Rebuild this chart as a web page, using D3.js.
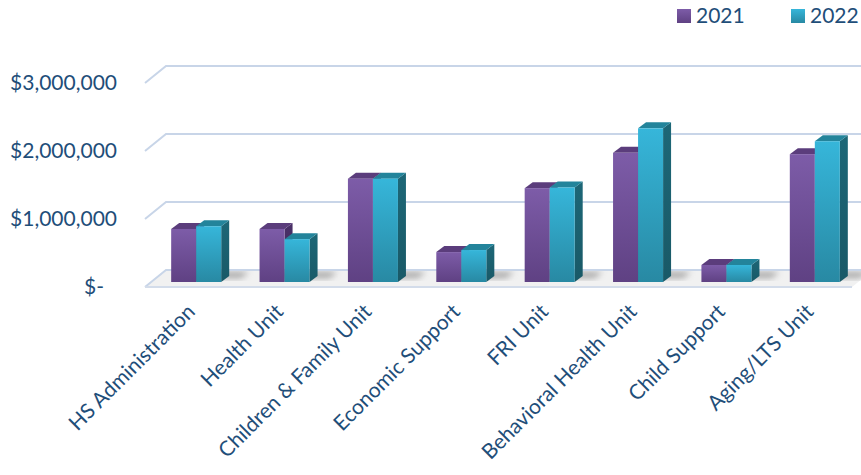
<!DOCTYPE html>
<html>
<head>
<meta charset="utf-8">
<script src="https://cdn.jsdelivr.net/npm/d3@7"></script>
<style>
  html, body { margin: 0; padding: 0; background: #fff; }
  svg { display: block; font-family: Lato, "Open Sans", sans-serif; }
</style>
</head>
<body>
<svg id="chart" width="861" height="475"></svg>
<script>
// data
var categories = ['HS Administration', 'Health Unit', 'Children & Family Unit', 'Economic Support',
  'FRI Unit', 'Behavioral Health Unit', 'Child Support', 'Aging/LTS Unit'];
var years = ['2021', '2022'];
var values2021 = [780000, 780000, 1520000, 440000, 1380000, 1900000, 250000, 1880000];
var values2022 = [820000, 630000, 1520000, 470000, 1390000, 2260000, 250000, 2070000];
var yTicks = [0, 1000000, 2000000, 3000000];

var svg = d3.select('#chart');
var defs = svg.append('defs');

// 3d-ish settings
var depth = { dx: 21, dy: -17 };   // wall depth
var barDepth = { dx: 8, dy: -6 };
var floorFront = 287, barBase = 282;
var plotLeft = 145, plotRight = 852;

var x = d3.scaleBand().domain(categories).range([152, 859]).paddingInner(0.434).paddingOuter(0.217);
var xs = d3.scaleBand().domain(years).range([0, x.bandwidth()]);
var y = d3.scaleLinear().domain([0, 3000000]).range([floorFront, floorFront - 204]);
var yBar = d3.scaleLinear().domain([0, 3000000]).range([barBase, barBase - 204]);

var colors = {
  '2021': { top: '#7d5ca8', bottom: '#5f4183', lid: '#5b3d7c', side: '#4a3068' },
  '2022': { top: '#36b6da', bottom: '#2889a3', lid: '#23849b', side: '#1d6777' }
};

years.forEach(function(k) {
  var g = defs.append('linearGradient').attr('id', 'front' + k).attr('x1', 0).attr('y1', 0).attr('x2', 0).attr('y2', 1);
  g.append('stop').attr('offset', '0%').attr('stop-color', colors[k].top);
  g.append('stop').attr('offset', '100%').attr('stop-color', colors[k].bottom);
  var s = defs.append('linearGradient').attr('id', 'side' + k).attr('x1', 0).attr('y1', 0).attr('x2', 0).attr('y2', 1);
  s.append('stop').attr('offset', '0%').attr('stop-color', colors[k].side);
  s.append('stop').attr('offset', '100%').attr('stop-color', d3.color(colors[k].side).darker(0.4));
});

var blur = defs.append('filter').attr('id', 'blur').attr('x', '-50%').attr('y', '-50%').attr('width', '200%').attr('height', '200%');
blur.append('feGaussianBlur').attr('stdDeviation', 3);

// floor
svg.append('path')
  .attr('d', 'M' + plotLeft + ',' + floorFront + 'L' + plotRight + ',' + floorFront +
    'L' + (plotRight + depth.dx) + ',' + (floorFront + depth.dy) + 'L' + (plotLeft + depth.dx) + ',' + (floorFront + depth.dy) + 'Z')
  .attr('fill', '#f1f1f1');

// shadows behind bars on the floor
svg.append('g').selectAll('path')
  .data(categories)
  .join('path')
  .attr('filter', 'url(#blur)')
  .attr('fill', '#707070')
  .attr('opacity', 0.6)
  .attr('d', function(d) {
    var x0 = x(d) + 6, x1 = x(d) + x.bandwidth() + 20;
    return 'M' + x0 + ',' + (barBase - 4) + 'L' + x1 + ',' + (barBase - 4) +
      'L' + (x1 + 8) + ',' + (barBase - 10) + 'L' + (x0 + 8) + ',' + (barBase - 10) + 'Z';
  });

// gridlines: back line plus diagonal on left wall
var grid = svg.append('g').attr('fill', 'none').attr('stroke', '#c8d5e8').attr('stroke-width', 2);
grid.selectAll('path')
  .data(yTicks)
  .join('path')
  .attr('d', function(v) {
    var yf = y(v);
    return 'M' + plotLeft + ',' + yf + 'L' + (plotLeft + depth.dx) + ',' + (yf + depth.dy) +
      'L' + 861 + ',' + (yf + depth.dy);
  });
svg.append('line')
  .attr('x1', plotLeft).attr('x2', plotRight).attr('y1', floorFront).attr('y2', floorFront)
  .attr('stroke', '#d3dcea').attr('stroke-width', 2);

// y labels
var fmt = function(v) { return v === 0 ? '$-' : '$' + d3.format(',')(v); };
svg.append('g').selectAll('text')
  .data(yTicks)
  .join('text')
  .attr('x', function(v) { return v === 0 ? 104 : 117; })
  .attr('y', function(v) { return y(v); })
  .attr('dy', '0.35em')
  .attr('text-anchor', 'end')
  .attr('font-size', 21)
  .attr('fill', '#1f4e79')
  .text(fmt);

// bars
var series = years.map(function(k, i) {
  var vals = i === 0 ? values2021 : values2022;
  return { key: k, values: categories.map(function(c, j) { return { cat: c, value: vals[j] }; }) };
});

function drawBar(sel, k) {
  sel.each(function(d) {
    var g = d3.select(this);
    var x0 = x(d.cat) + xs(k), w = xs.bandwidth();
    var yt = yBar(d.value), yb = barBase;
    var dx = barDepth.dx, dy = barDepth.dy;
    // side
    g.append('path').attr('fill', 'url(#side' + k + ')')
      .attr('d', 'M' + (x0 + w) + ',' + yb + 'L' + (x0 + w + dx) + ',' + (yb + dy) +
        'L' + (x0 + w + dx) + ',' + (yt + dy) + 'L' + (x0 + w) + ',' + yt + 'Z');
    // top
    g.append('path').attr('fill', colors[k].lid)
      .attr('d', 'M' + x0 + ',' + yt + 'L' + (x0 + w) + ',' + yt + 'L' + (x0 + w + dx) + ',' + (yt + dy) +
        'L' + (x0 + dx) + ',' + (yt + dy) + 'Z');
    // front
    g.append('rect').attr('x', x0).attr('y', yt).attr('width', w).attr('height', yb - yt)
      .attr('fill', 'url(#front' + k + ')');
  });
}

var groups = svg.append('g').selectAll('g')
  .data(categories)
  .join('g');
groups.each(function(c, j) {
  var g = d3.select(this);
  series.forEach(function(s) {
    g.append('g').datum(s.values[j]).call(drawBar, s.key);
  });
});

// x labels
svg.append('g').selectAll('text')
  .data(categories)
  .join('text')
  .attr('transform', function(d) {
    return 'translate(' + (x(d) + x.bandwidth() / 2) + ',' + 313 + ') rotate(-45)';
  })
  .attr('text-anchor', 'end')
  .attr('font-size', 21)
  .attr('fill', '#1f4e79')
  .text(function(d) { return d; });

// legend
var legend = svg.append('g');
var legendX = [677, 791];
years.forEach(function(k, i) {
  legend.append('rect').attr('x', legendX[i]).attr('y', 9).attr('width', 14).attr('height', 14)
    .attr('fill', 'url(#front' + k + ')');
  legend.append('text').attr('x', legendX[i] + 19).attr('y', 16).attr('dy', '0.35em')
    .attr('font-size', 21).attr('fill', '#1f4e79').text(k);
});
</script>
</body>
</html>
